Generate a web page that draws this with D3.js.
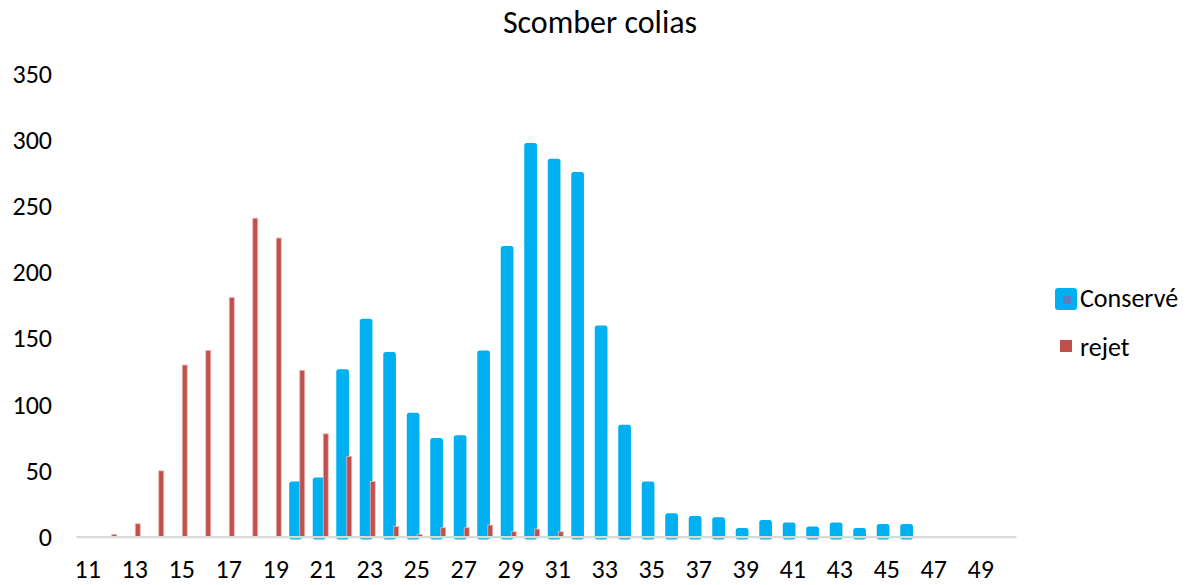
<!DOCTYPE html>
<html>
<head>
<meta charset="utf-8">
<script src="https://cdn.jsdelivr.net/npm/d3@7/dist/d3.min.js"></script>
<style>
  html, body { margin: 0; padding: 0; background: #fff; }
  svg { display: block; }
  text { font-family: Carlito, Lato, "Open Sans", sans-serif; fill: #000; }
</style>
</head>
<body>
<svg id="chart" width="1189" height="585"></svg>
<script>
// ---- data ----
const title = "Scomber colias";
const categories = d3.range(11, 51); // 11..50
const tickLabels = [11,13,15,17,19,21,23,25,27,29,31,33,35,37,39,41,43,45,47,49];
const yTicks = [0,50,100,150,200,250,300,350];
const seriesNames = ["Conservé", "rejet"];
// Conservé values for lengths 11..50
const conserve = [0,0,0,0,0,0,0,0,0,40,43,125,163,138,92,73,75,139,218,296,284,274,158,83,40,16,14,13,5,11,9,6,9,5,8,8,0,0,0,0];
// rejet values for lengths 11..50
const rejet = [0,2,10,50,130,141,181,241,226,126,78,61,42,8,2,7,7,9,4,6,4,0,0,0,0,0,0,0,0,0,0,0,0,0,0,0,0,0,0,0];

// ---- chart ----
const FONT = "Carlito, Lato, 'Open Sans', sans-serif";
const svg = d3.select("#chart");
const x = d3.scaleBand().domain(categories).range([76, 1016]).paddingInner(0).paddingOuter(0);
const y = d3.scaleLinear().domain([0, 350]).range([537, 74]);
const bw = x.bandwidth();

svg.append("text")
  .attr("x", 600).attr("y", 33)
  .attr("text-anchor", "middle")
  .style("font-size", "32px")
  .text(title);

// y axis labels only
const yAxis = svg.append("g")
  .attr("transform", "translate(76,0)")
  .call(d3.axisLeft(y).tickValues(yTicks).tickSize(0).tickPadding(24));
yAxis.select(".domain").remove();
yAxis.selectAll("text").style("font-size", "26px").style("font-family", FONT).attr("fill", "#000");

const data = categories.map((c, i) => ({c, cons: conserve[i], rej: rejet[i]}));

// Conservé bars (rounded via round-join stroke)
const sw = 5;
svg.append("g").selectAll("rect")
  .data(data.filter(d => d.cons > 0))
  .join("rect")
  .attr("x", d => x(d.c) + 1.75 + sw / 2)
  .attr("width", 12.7 - sw)
  .attr("y", d => y(d.cons))
  .attr("height", d => y(0) - y(d.cons))
  .attr("fill", "#00b0f0")
  .attr("stroke", "#00b0f0")
  .attr("stroke-width", sw)
  .attr("stroke-linejoin", "round");

// rejet bars
svg.append("g").selectAll("rect")
  .data(data.filter(d => d.rej > 0))
  .join("rect")
  .attr("x", d => x(d.c) + bw / 2 + 0.5)
  .attr("width", 5)
  .attr("y", d => y(d.rej))
  .attr("height", d => y(0) - y(d.rej))
  .attr("fill", "#c0504d")
  .attr("stroke", "#eab8b6")
  .attr("stroke-width", 0.8);

// x axis
const xAxis = svg.append("g")
  .attr("transform", "translate(0,536.5)")
  .call(d3.axisBottom(x).tickValues(tickLabels).tickSize(0).tickPadding(23));
xAxis.select(".domain").attr("stroke", "#d9d9d9").attr("stroke-width", 2.25);
xAxis.selectAll("text").style("font-size", "26px").style("font-family", FONT).attr("fill", "#000");

// legend
const lg = svg.append("g");
lg.append("rect").attr("x", 1055).attr("y", 288).attr("width", 22).attr("height", 22).attr("rx", 3)
  .attr("fill", "#00b0f0");
lg.append("rect").attr("x", 1063).attr("y", 296).attr("width", 8).attr("height", 8)
  .attr("fill", "#5b7bc4");
lg.append("text").attr("x", 1080).attr("y", 307).style("font-size", "26px").text(seriesNames[0]);
lg.append("rect").attr("x", 1060).attr("y", 340).attr("width", 12).attr("height", 12)
  .attr("fill", "#c0504d");
lg.append("text").attr("x", 1080).attr("y", 356).style("font-size", "26px").text(seriesNames[1]);
</script>
</body>
</html>
